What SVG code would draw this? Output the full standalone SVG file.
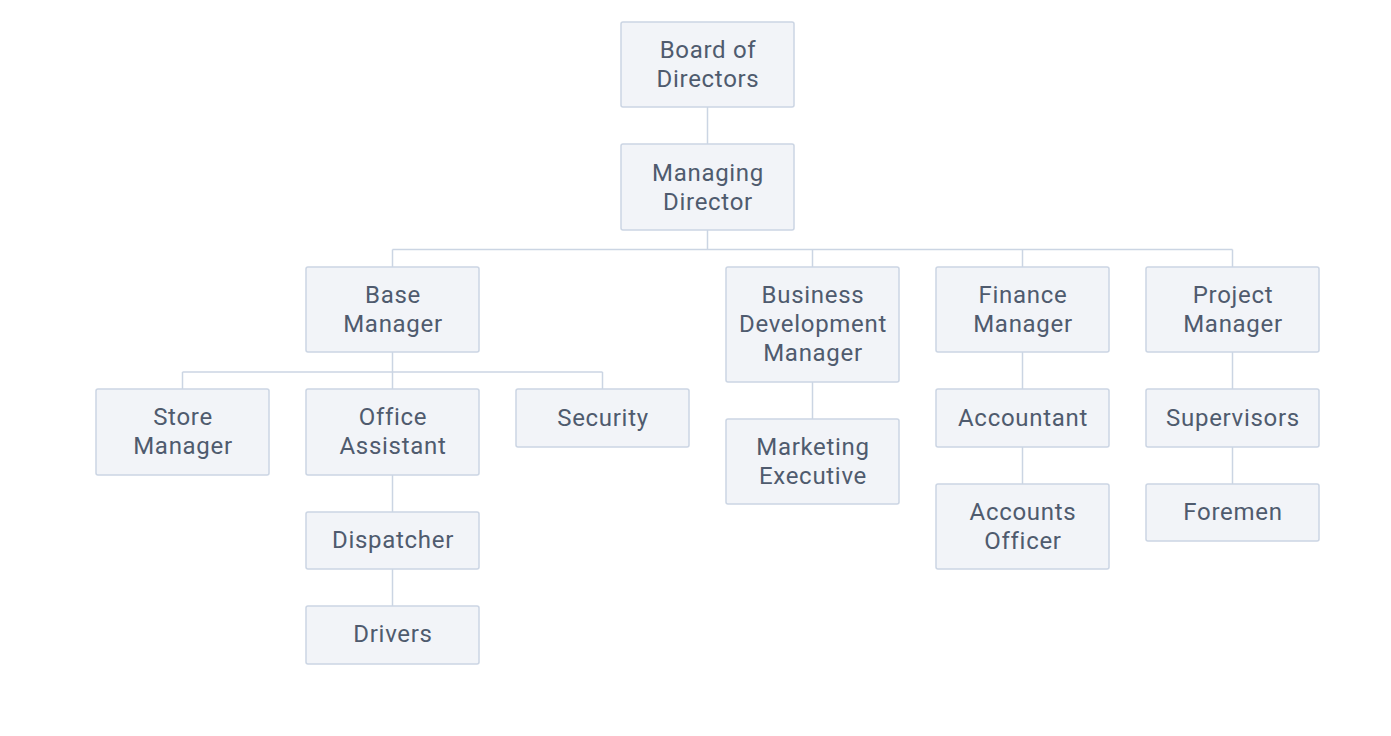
<svg xmlns="http://www.w3.org/2000/svg" width="1391" height="736" viewBox="0 0 1391 736">
<style>
.n rect{fill:#f2f4f8;stroke:#cbd5e3;stroke-width:1.5}
.n text{font-family:Roboto,"Liberation Sans",sans-serif;font-size:24px;letter-spacing:0.7px;fill:#4f5b6e;text-anchor:middle}
.c path{fill:none;stroke:#cbd5e3;stroke-width:1.5}
</style>
<rect width="1391" height="736" fill="#ffffff"/>
<g class="c" id="connectors">
<path d="M707.5 107V144"/>
<path d="M707.5 230V249.5M392.5 249.5H1232.5M392.5 249.5V267M812.5 249.5V267M1022.5 249.5V267M1232.5 249.5V267"/>
<path d="M392.5 352V389M182.5 372H602.5M182.5 372V389M602.5 372V389"/>
<path d="M392.5 475V512M392.5 569V606"/>
<path d="M812.5 382V419"/>
<path d="M1022.5 352V389M1022.5 447V484"/>
<path d="M1232.5 352V389M1232.5 447V484"/>
</g>
<g class="n" id="board"><rect x="621" y="22" width="173" height="85" rx="2"/><text x="708" y="58">Board of</text><text x="708" y="87">Directors</text></g>
<g class="n" id="md"><rect x="621" y="144" width="173" height="86" rx="2"/><text x="708" y="181">Managing</text><text x="708" y="210">Director</text></g>
<g class="n" id="base"><rect x="306" y="267" width="173" height="85" rx="2"/><text x="393" y="303">Base</text><text x="393" y="332">Manager</text></g>
<g class="n" id="bdm"><rect x="726" y="267" width="173" height="115" rx="2"/><text x="813" y="303">Business</text><text x="813" y="332">Development</text><text x="813" y="361">Manager</text></g>
<g class="n" id="finance"><rect x="936" y="267" width="173" height="85" rx="2"/><text x="1023" y="303">Finance</text><text x="1023" y="332">Manager</text></g>
<g class="n" id="project"><rect x="1146" y="267" width="173" height="85" rx="2"/><text x="1233" y="303">Project</text><text x="1233" y="332">Manager</text></g>
<g class="n" id="store"><rect x="96" y="389" width="173" height="86" rx="2"/><text x="183" y="425">Store</text><text x="183" y="454">Manager</text></g>
<g class="n" id="office"><rect x="306" y="389" width="173" height="86" rx="2"/><text x="393" y="425">Office</text><text x="393" y="454">Assistant</text></g>
<g class="n" id="security"><rect x="516" y="389" width="173" height="58" rx="2"/><text x="603" y="426">Security</text></g>
<g class="n" id="marketing"><rect x="726" y="419" width="173" height="85" rx="2"/><text x="813" y="455">Marketing</text><text x="813" y="484">Executive</text></g>
<g class="n" id="accountant"><rect x="936" y="389" width="173" height="58" rx="2"/><text x="1023" y="426">Accountant</text></g>
<g class="n" id="officer"><rect x="936" y="484" width="173" height="85" rx="2"/><text x="1023" y="520">Accounts</text><text x="1023" y="549">Officer</text></g>
<g class="n" id="supervisors"><rect x="1146" y="389" width="173" height="58" rx="2"/><text x="1233" y="426">Supervisors</text></g>
<g class="n" id="foremen"><rect x="1146" y="484" width="173" height="57" rx="2"/><text x="1233" y="520">Foremen</text></g>
<g class="n" id="dispatcher"><rect x="306" y="512" width="173" height="57" rx="2"/><text x="393" y="548">Dispatcher</text></g>
<g class="n" id="drivers"><rect x="306" y="606" width="173" height="58" rx="2"/><text x="393" y="642">Drivers</text></g>
</svg>
